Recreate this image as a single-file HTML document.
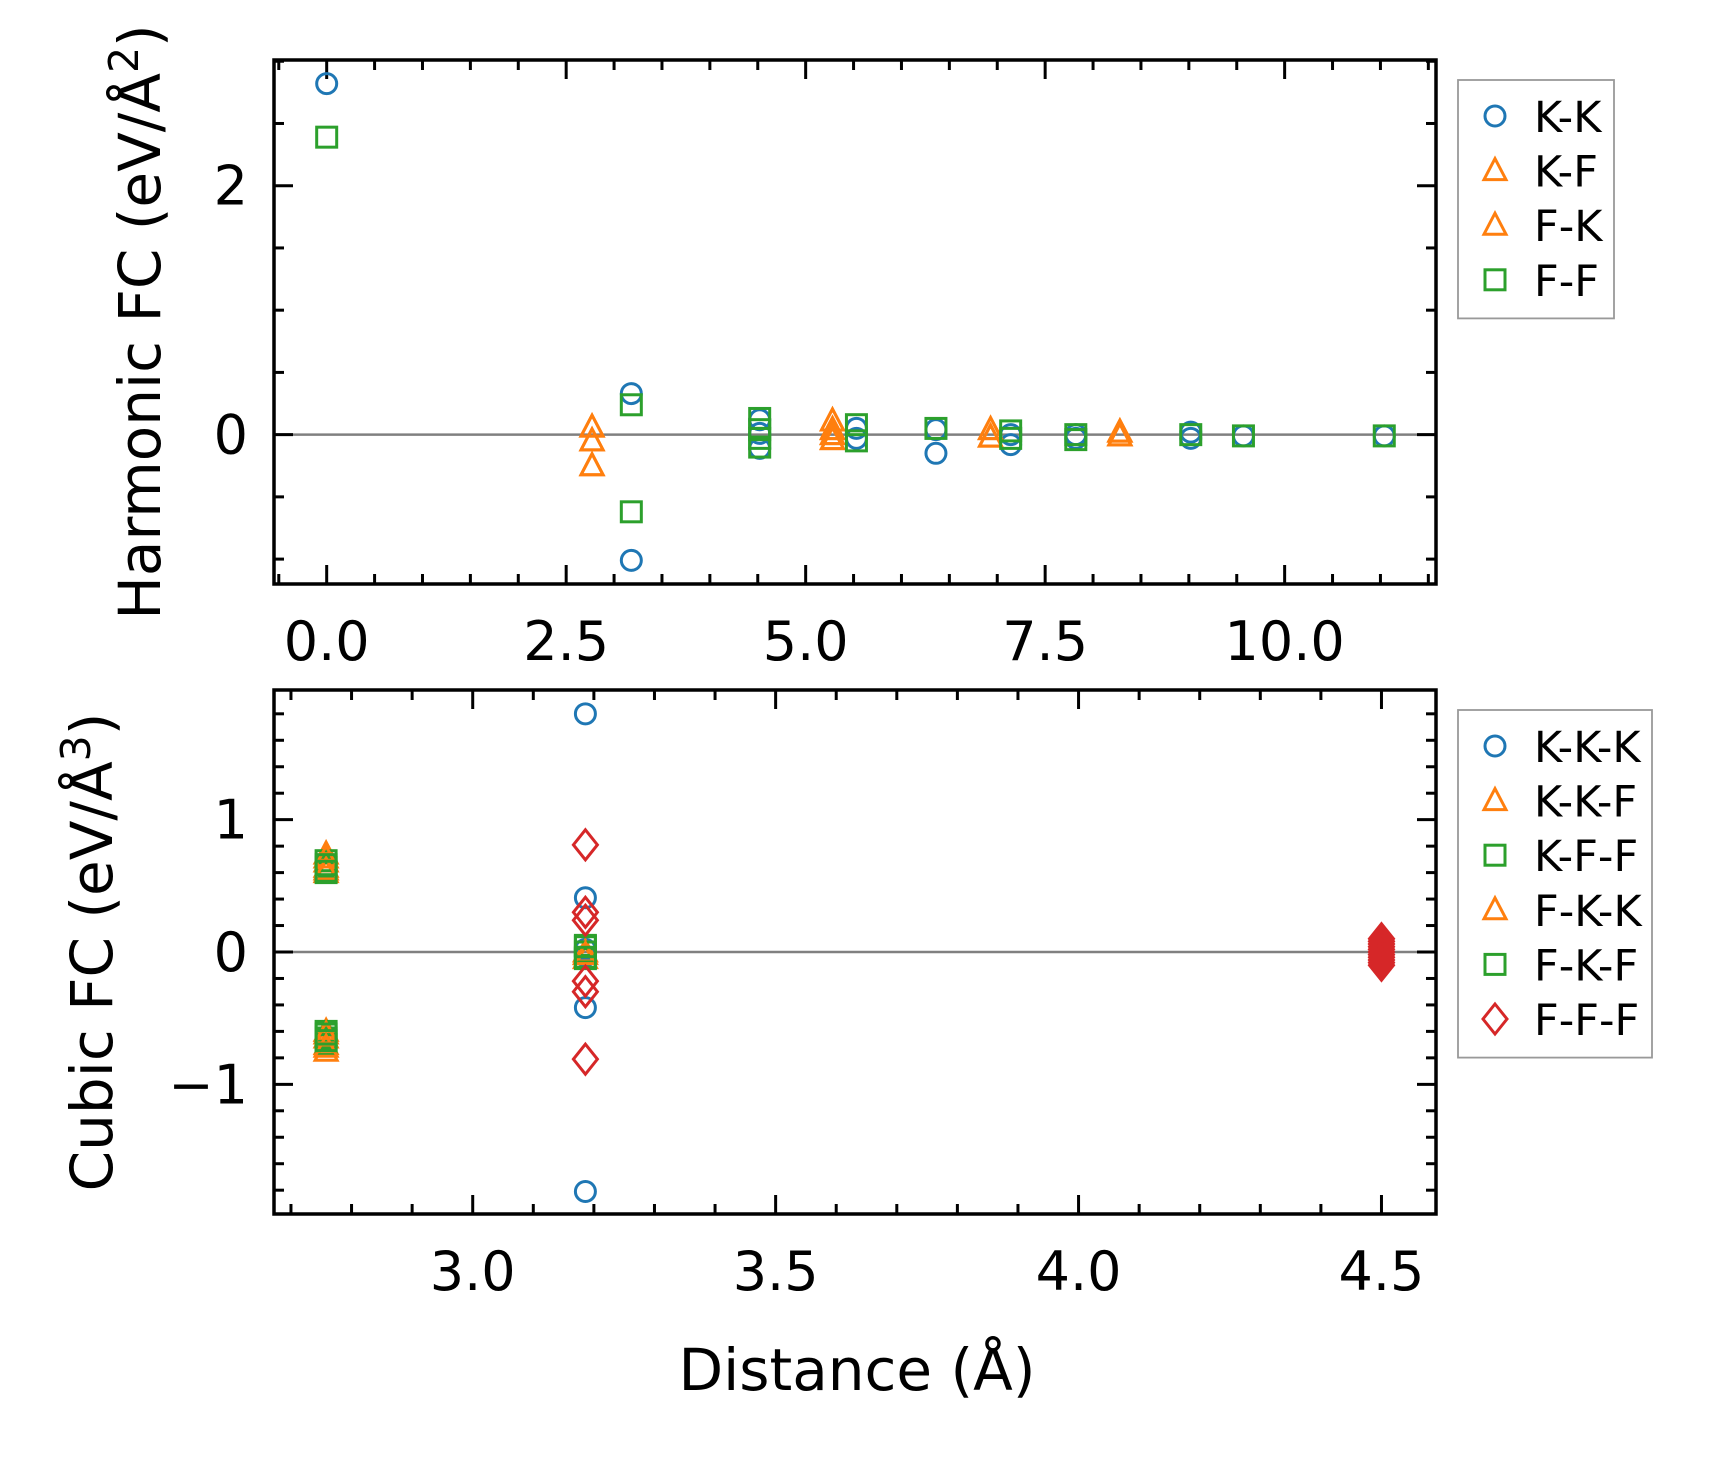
<!DOCTYPE html>
<html><head><meta charset="utf-8"><style>
html,body{margin:0;padding:0;background:#fff;}
svg{display:block;font-family:"DejaVu Sans","Liberation Sans",sans-serif;}
</style></head><body>
<svg id="chart" width="1713" height="1460" viewBox="0 0 1713 1460" xmlns="http://www.w3.org/2000/svg">
<rect width="1713" height="1460" fill="#fff"/>
<g id="top"></g>
<g id="bot"></g>
<text transform="translate(160,322) rotate(-90)" text-anchor="middle" font-size="58">Harmonic FC (eV/Å<tspan font-size="41" dy="-22">2</tspan><tspan dy="22">)</tspan></text>
<text transform="translate(112,952) rotate(-90)" text-anchor="middle" font-size="58">Cubic FC (eV/Å<tspan font-size="41" dy="-22">3</tspan><tspan dy="22">)</tspan></text>
<text x="857" y="1390" text-anchor="middle" font-size="58">Distance (Å)</text>
</svg>
<script>
// ---- Harmonic data ----
const kkX=[0,3.18,3.18,4.52,4.52,4.52,5.53,5.53,6.36,6.36,7.14,7.14,7.82,7.82,9.02,9.02,9.57,11.04];
const kkY=[2.82,0.33,-1.01,0.12,0.01,-0.11,0.05,-0.03,0.04,-0.15,0,-0.08,0,-0.03,0.02,-0.03,-0.01,-0.01];
const kfX=[2.77,2.77,2.77,5.28,5.28,5.28,5.28,6.93,6.93,8.28,8.28];
const kfY=[0.06,-0.05,-0.25,0.11,0.04,0,-0.04,0.04,-0.02,0.02,-0.01];
const fkX=[2.77,2.77,2.77,5.28,5.28,5.28,5.28,6.93,6.93,8.28,8.28];
const fkY=[0.06,-0.05,-0.25,0.11,0.04,0,-0.04,0.04,-0.02,0.02,-0.01];
const ffX=[0,3.18,3.18,4.52,4.52,4.52,4.52,5.53,5.53,6.36,7.14,7.14,7.82,7.82,9.02,9.57,11.04];
const ffY=[2.39,0.24,-0.62,0.13,0.04,-0.03,-0.1,0.08,-0.05,0.05,0.03,-0.03,0,-0.04,0,-0.01,-0.01];
const topXTicks=["0.0","2.5","5.0","7.5","10.0"];
const topXTickVals=[0,2.5,5,7.5,10];
const topYTicks=["0","2"];
const topYTickVals=[0,2];
// ---- Cubic data ----
const kkkX=[3.186,3.186,3.186,3.186,3.186,3.186];
const kkkY=[1.80,0.41,0.02,-0.03,-0.42,-1.81];
const kkfX=[2.758,2.758,2.758,2.758,2.758,2.758,2.758,2.758,3.186,3.186];
const kkfY=[0.74,0.68,0.64,0.6,-0.6,-0.65,-0.7,-0.75,0.0,-0.05];
const kffX=[2.758,2.758,2.758,2.758,2.758,2.758,3.186,3.186,3.186];
const kffY=[0.69,0.64,0.6,-0.6,-0.65,-0.7,0.05,0,-0.05];
const fkkX=[2.758,2.758,2.758,2.758,3.186];
const fkkY=[0.71,0.62,-0.62,-0.72,-0.02];
const fkfX=[2.758,2.758,2.758,2.758,3.186,3.186];
const fkfY=[0.66,0.61,-0.62,-0.67,0.04,-0.04];
const fffX=[3.186,3.186,3.186,3.186,3.186,3.186,4.5,4.5,4.5,4.5,4.5,4.5,4.5,4.5,4.5,4.5,4.5];
const fffY=[0.81,0.3,0.24,-0.22,-0.3,-0.81,0.1,0.08,0.06,0.04,0.02,0,-0.02,-0.04,-0.06,-0.08,-0.1];
const botXTicks=["3.0","3.5","4.0","4.5"];
const botXTickVals=[3.0,3.5,4.0,4.5];
const botYTicks=["\u22121","0","1"];
const botYTickVals=[-1,0,1];

const NS="http://www.w3.org/2000/svg";
const C={b:"#1f77b4",o:"#ff7f0e",g:"#2ca02c",r:"#d62728"};
function mk(tag,attrs,parent){const e=document.createElementNS(NS,tag);for(const k in attrs)e.setAttribute(k,attrs[k]);parent.appendChild(e);return e;}

function panel(g,P){
  const sx=v=>P.l+(v-P.x0)/(P.x1-P.x0)*(P.r-P.l);
  const sy=v=>P.b-(v-P.y0)/(P.y1-P.y0)*(P.b-P.t);
  const zl=mk('line',{x1:P.l,x2:P.r,y1:sy(0),y2:sy(0),stroke:'#808080','stroke-width':2.5},g);
  
  
  const tg=mk('g',{stroke:'#000','stroke-width':3},g);
  
  
  const eps=1e-6;
  for(let v=Math.ceil(P.x0/P.xm)*P.xm;v<=P.x1+eps;v+=P.xm){
    const maj=P.xTV.some(t=>Math.abs(t-v)<eps);const L=maj?19:10;const x=sx(v);
    mk('line',{x1:x,x2:x,y1:P.b,y2:P.b-L},tg);mk('line',{x1:x,x2:x,y1:P.t,y2:P.t+L},tg);
  }
  for(let v=Math.ceil(P.y0/P.ym)*P.ym;v<=P.y1+eps;v+=P.ym){
    const maj=P.yTV.some(t=>Math.abs(t-v)<eps);const L=maj?19:10;const y=sy(v);
    mk('line',{x1:P.l,x2:P.l+L,y1:y,y2:y},tg);mk('line',{x1:P.r,x2:P.r-L,y1:y,y2:y},tg);
  }
  P.xTV.forEach((v,i)=>{const t=mk('text',{x:sx(v),y:P.b+76,'text-anchor':'middle','font-size':54},g);t.textContent=P.xT[i];
    });
  P.yTV.forEach((v,i)=>{const t=mk('text',{x:P.l-26,y:sy(v)+19,'text-anchor':'end','font-size':54},g);t.textContent=P.yT[i];
    });
  P.series.forEach(s=>{
    const sg=mk('g',{},g);
    
    
    s.x.forEach((xv,i)=>marker(sg,s.m,sx(xv),sy(s.y[i]),s.c));
  });
  const fr=mk('rect',{x:P.l,y:P.t,width:P.r-P.l,height:P.b-P.t,fill:'none',stroke:'#000','stroke-width':3.5},g);
  
  
  const lg=mk('g',{},g);
  
  
  mk('rect',{x:P.lx,y:P.ly,width:P.lw,height:P.series.length*54.6+20,fill:'#fff',stroke:'#999','stroke-width':1.8},lg);
  P.series.forEach((s,i)=>{
    const y=P.ly+36+i*54.6;
    const e=mk('g',{},lg);
    
    
    marker(e,s.m,P.lx+37,y,s.c);
    const t=mk('text',{x:P.lx+76,y:y+16,'font-size':43},e);t.textContent=s.name;
  });
}
function marker(g,m,x,y,c){
  const a={fill:'none',stroke:c,'stroke-width':3};let e;
  if(m==='o')e=mk('circle',Object.assign({cx:x,cy:y,r:10},a),g);
  else if(m==='^')e=mk('polygon',Object.assign({points:`${x},${y-12} ${x-11},${y+9} ${x+11},${y+9}`},a),g);
  else if(m==='s')e=mk('rect',Object.assign({x:x-10,y:y-10,width:20,height:20},a),g);
  else e=mk('polygon',Object.assign({points:`${x},${y-15} ${x+12},${y} ${x},${y+15} ${x-12},${y}`},a),g);
  
  
}
panel(document.getElementById('top'),{l:274,r:1436,t:60,b:584,x0:-0.55,x1:11.58,y0:-1.2,y1:3.01,xm:0.5,ym:0.5,
  xT:topXTicks,xTV:topXTickVals,yT:topYTicks,yTV:topYTickVals,lx:1458,ly:80,lw:156,
  series:[{name:'K-K',x:kkX,y:kkY,m:'o',c:C.b},{name:'K-F',x:kfX,y:kfY,m:'^',c:C.o},{name:'F-K',x:fkX,y:fkY,m:'^',c:C.o},{name:'F-F',x:ffX,y:ffY,m:'s',c:C.g}]});
panel(document.getElementById('bot'),{l:274,r:1436,t:690,b:1214,x0:2.672,x1:4.59,y0:-1.98,y1:1.98,xm:0.1,ym:0.2,
  xT:botXTicks,xTV:botXTickVals,yT:botYTicks,yTV:botYTickVals,lx:1458,ly:710,lw:194,
  series:[{name:'K-K-K',x:kkkX,y:kkkY,m:'o',c:C.b},{name:'K-K-F',x:kkfX,y:kkfY,m:'^',c:C.o},{name:'K-F-F',x:kffX,y:kffY,m:'s',c:C.g},
    {name:'F-K-K',x:fkkX,y:fkkY,m:'^',c:C.o},{name:'F-K-F',x:fkfX,y:fkfY,m:'s',c:C.g},{name:'F-F-F',x:fffX,y:fffY,m:'d',c:C.r}]});
</script>
</body></html>
